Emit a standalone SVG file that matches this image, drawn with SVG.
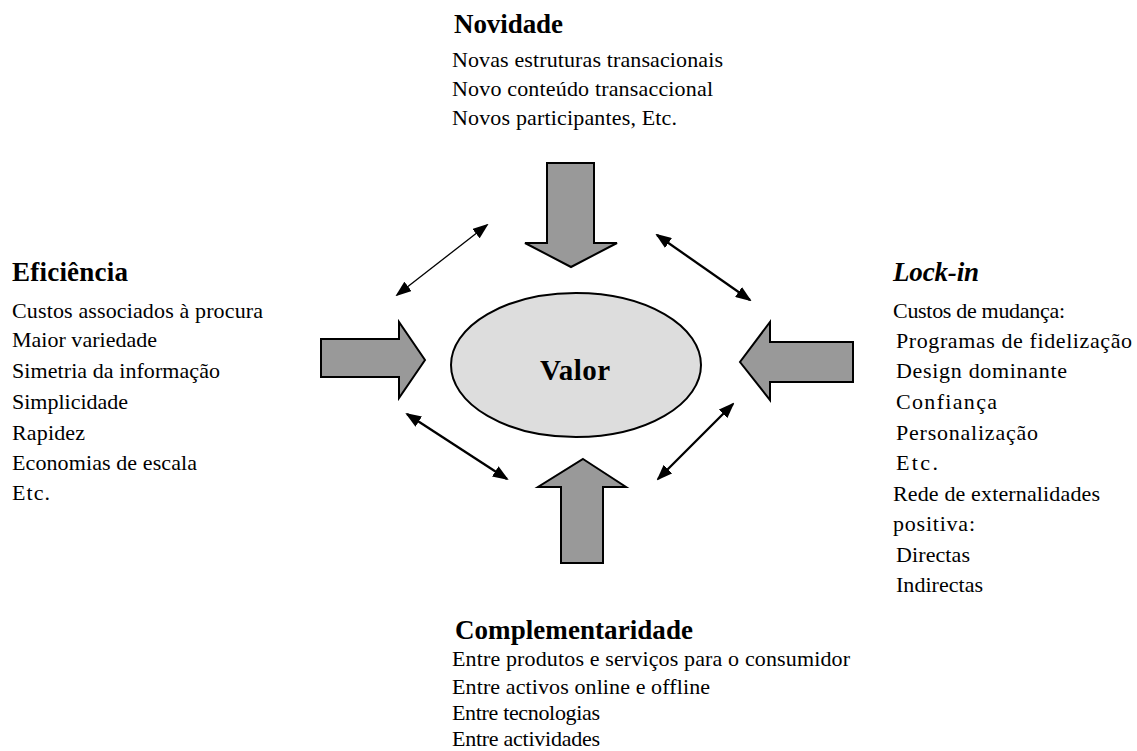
<svg xmlns="http://www.w3.org/2000/svg" width="1137" height="751" viewBox="0 0 1137 751">
<defs>
<style>
.t{font-family:"Liberation Serif","Times New Roman",serif;font-size:22px;fill:#000}
.h{font-family:"Liberation Serif","Times New Roman",serif;font-size:27px;font-weight:bold;fill:#000}
.blk{fill:#999999;stroke:#000;stroke-width:2;stroke-linejoin:miter}
.con{stroke:#000;fill:none}
</style>
<marker id="ah" viewBox="0 0 16 12" refX="14" refY="6" markerWidth="16" markerHeight="12" markerUnits="userSpaceOnUse" orient="auto-start-reverse">
<path d="M0,0 L16,6 L0,12 z" fill="#000"/>
</marker>
</defs>
<rect width="1137" height="751" fill="#fff"/>

<g id="valor">
<ellipse cx="576" cy="365" rx="125" ry="72" fill="#dddddd" stroke="#000" stroke-width="2"/>
<text x="540" y="380" font-family="Liberation Serif, Times New Roman, serif" font-size="29" font-weight="bold" textLength="70" lengthAdjust="spacing">Valor</text>
</g>

<g id="novidade">
<polygon class="blk" points="547,163 594,163 594,243 617,243 571,267 525,243 547,243"/>
<text class="h" x="454" y="33" textLength="109" lengthAdjust="spacing">Novidade</text>
<text class="t" x="452" y="67" textLength="271" lengthAdjust="spacing">Novas estruturas transacionais</text>
<text class="t" x="452" y="96" textLength="261" lengthAdjust="spacing">Novo conteúdo transaccional</text>
<text class="t" x="452" y="125" textLength="225" lengthAdjust="spacing">Novos participantes, Etc.</text>
</g>

<g id="eficiencia">
<polygon class="blk" points="321,339 399,339 399,322 425,360 399,398 399,377 321,377"/>
<text class="h" x="12" y="281" textLength="116" lengthAdjust="spacing">Eficiência</text>
<text class="t" x="12" y="318" textLength="251" lengthAdjust="spacing">Custos associados à procura</text>
<text class="t" x="12" y="347" textLength="145" lengthAdjust="spacing">Maior variedade</text>
<text class="t" x="12" y="378" textLength="208" lengthAdjust="spacing">Simetria da informação</text>
<text class="t" x="12" y="409" textLength="116" lengthAdjust="spacing">Simplicidade</text>
<text class="t" x="12" y="440" textLength="73" lengthAdjust="spacing">Rapidez</text>
<text class="t" x="12" y="470" textLength="185" lengthAdjust="spacing">Economias de escala</text>
<text class="t" x="12" y="500" textLength="38" lengthAdjust="spacing">Etc.</text>
</g>

<g id="lockin">
<polygon class="blk" points="853,342 770,342 770,322 740,362 770,400 770,382 853,382"/>
<text class="h" x="893" y="281" font-style="italic" textLength="86" lengthAdjust="spacing">Lock-in</text>
<text class="t" x="893" y="318" textLength="172" lengthAdjust="spacing">Custos de mudança:</text>
<text class="t" x="896" y="348" textLength="236" lengthAdjust="spacing">Programas de fidelização</text>
<text class="t" x="896" y="378" textLength="171" lengthAdjust="spacing">Design dominante</text>
<text class="t" x="896" y="409" textLength="101" lengthAdjust="spacing">Confiança</text>
<text class="t" x="896" y="440" textLength="142" lengthAdjust="spacing">Personalização</text>
<text class="t" x="896" y="470" textLength="42" lengthAdjust="spacing">Etc.</text>
<text class="t" x="893" y="501" textLength="207" lengthAdjust="spacing">Rede de externalidades</text>
<text class="t" x="893" y="531" textLength="82" lengthAdjust="spacing">positiva:</text>
<text class="t" x="896" y="562" textLength="74" lengthAdjust="spacing">Directas</text>
<text class="t" x="896" y="592" textLength="87" lengthAdjust="spacing">Indirectas</text>
</g>

<g id="complementaridade">
<polygon class="blk" points="583,459 626,487 603,487 603,563 561,563 561,487 538,487"/>
<text class="h" x="455" y="639" textLength="238" lengthAdjust="spacing">Complementaridade</text>
<text class="t" x="452" y="666" textLength="398" lengthAdjust="spacing">Entre produtos e serviços para o consumidor</text>
<text class="t" x="452" y="694" textLength="258" lengthAdjust="spacing">Entre activos online e offline</text>
<text class="t" x="452" y="720" textLength="148" lengthAdjust="spacing">Entre tecnologias</text>
<text class="t" x="452" y="746" textLength="148" lengthAdjust="spacing">Entre actividades</text>
</g>

<g id="connectors">
<line class="con" x1="397" y1="295" x2="487" y2="225" stroke-width="1.3" marker-start="url(#ah)" marker-end="url(#ah)"/>
<line class="con" x1="657" y1="235" x2="750" y2="300" stroke-width="2.3" marker-start="url(#ah)" marker-end="url(#ah)"/>
<line class="con" x1="407" y1="414" x2="507" y2="479" stroke-width="2.3" marker-start="url(#ah)" marker-end="url(#ah)"/>
<line class="con" x1="733" y1="404" x2="658" y2="479" stroke-width="2.3" marker-start="url(#ah)" marker-end="url(#ah)"/>
</g>
</svg>
